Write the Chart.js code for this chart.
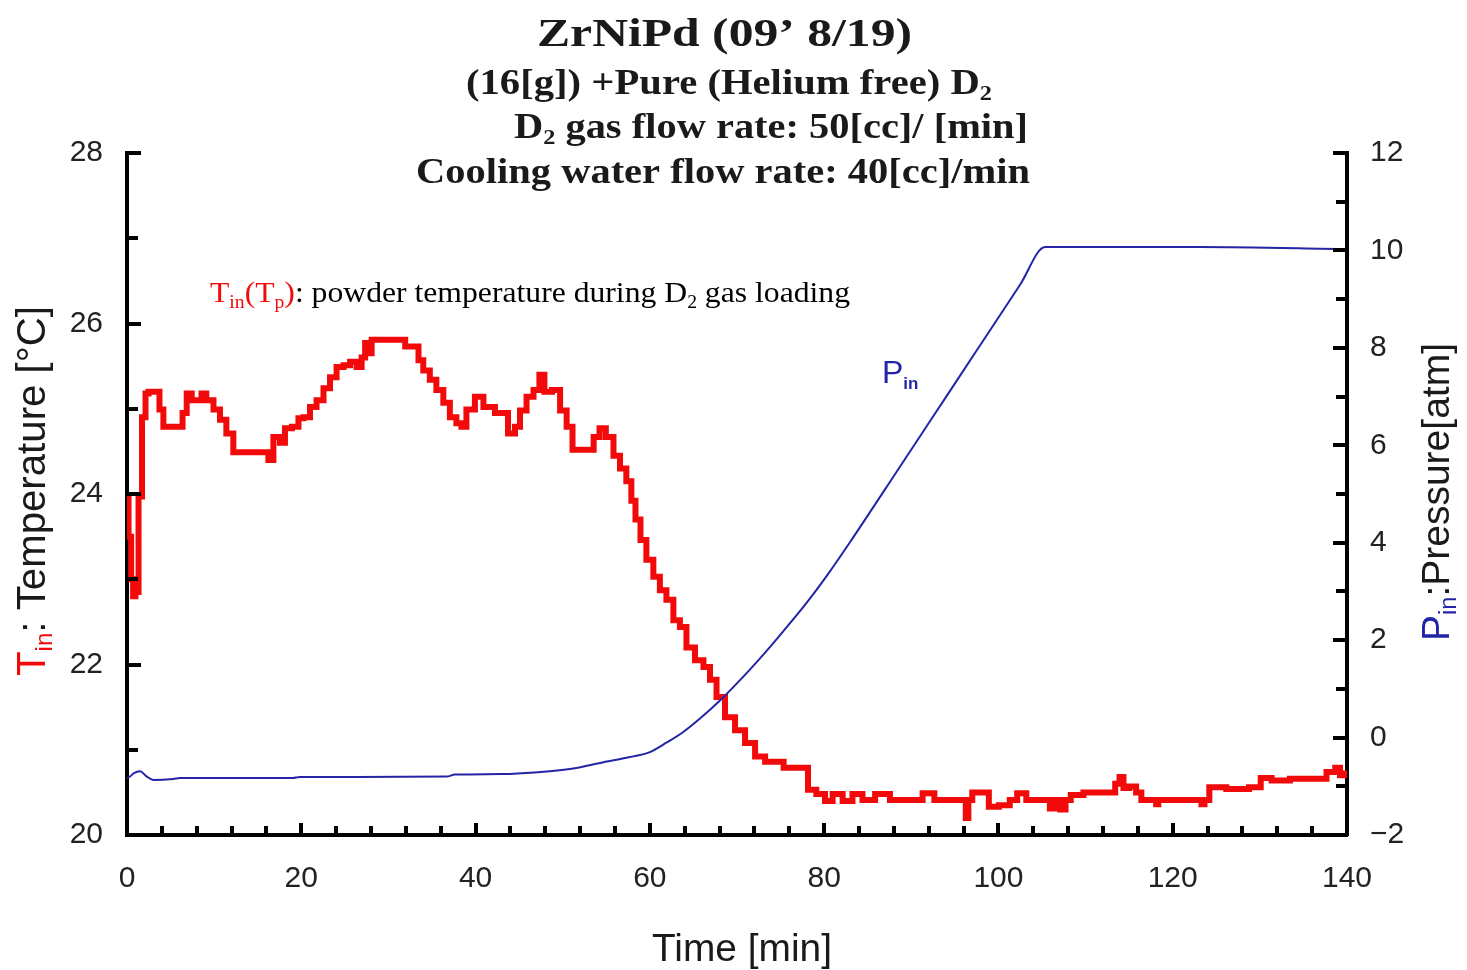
<!DOCTYPE html>
<html lang="en">
<head>
  <meta charset="UTF-8">
  <title>ZrNiPd D2 gas loading</title>
  <script src="https://cdn.jsdelivr.net/npm/chart.js"></script>
  <style>
    body {
      margin: 0;
      background: #fff;
      overflow: hidden;
    }
    canvas {
      display: block;
    }
  </style>
</head>
<body>

  <canvas id="chart" width="1467" height="970"></canvas>

  <script>
    // axis ticks
    const timeTicks = [0, 20, 40, 60, 80, 100, 120, 140];
    const tempTicks = [20, 22, 24, 26, 28];
    const presTicks = [-2, 0, 2, 4, 6, 8, 10, 12];

    // powder temperature T_in [°C] vs time [min]
    const tempTime = [
      0, 0.35, 0.6, 0.8, 1.15, 1.5, 1.95, 2.3, 2.65, 3.45,
      4.0, 4.35, 6.3, 6.45, 7.25, 7.6, 8.4, 8.7, 9.5, 10.35,
      11.0, 11.8, 12.6, 16.05, 16.4, 17.2, 17.9, 18.35, 19.5, 19.85,
      20.65, 21.35, 22.15, 22.95, 23.65, 24.45, 25.25, 25.95, 26.75, 27.1,
      27.55, 27.9, 28.25, 31.7, 32.15, 33.3, 33.6, 34.4, 35.1, 35.9,
      36.7, 37.4, 38.2, 38.55, 39.35, 40.5, 41.3, 43.15, 44.3, 44.75,
      45.45, 46.25, 47.05, 47.6, 48.2, 49.35, 50.05, 50.85, 51.4, 53.15,
      53.95, 54.5, 55.4, 56.25, 56.9, 57.7, 58.05, 58.65, 59.2, 60.0,
      60.8, 61.5, 62.3, 63.1, 63.8, 64.6, 65.75, 66.55, 67.25, 68.05,
      69.2, 70.35, 71.5, 72.65, 73.8, 74.95, 75.75, 77.6, 78.7, 79.5,
      80.7, 81.25, 83.0, 83.5, 85.3, 86.4, 88.7, 91.0, 91.6, 92.5,
      92.8, 96.1, 96.4, 96.7, 97.3, 98.8, 99.0, 101.1, 101.5, 102.8,
      103.6, 105.7, 106.1, 106.8, 107.4, 108.0, 108.6, 110.9, 113.1, 113.7,
      114.1, 114.6, 115.4, 116.2, 116.6, 118.0, 118.2, 118.5, 123.1, 123.5,
      123.8, 124.6, 127.7, 129.8, 130.4, 132.3, 134.6, 136.9, 138.4, 138.9,
      139.5, 140
    ];
    const tempValues = [
      23.95, 23.5, 23.0, 22.8, 22.85, 23.97, 24.9, 25.18, 25.2, 25.2,
      24.99, 24.79, 24.79, 24.95, 25.18, 25.1, 25.1, 25.18, 25.1, 24.99,
      24.87, 24.71, 24.49, 24.49, 24.4, 24.67, 24.6, 24.77, 24.79, 24.89,
      24.9, 25.02, 25.1, 25.24, 25.37, 25.49, 25.51, 25.55, 25.49, 25.6,
      25.77, 25.65, 25.81, 25.81, 25.73, 25.73, 25.57, 25.45, 25.34, 25.22,
      25.07, 24.9, 24.83, 24.79, 24.99, 25.14, 25.02, 24.95, 24.71, 24.79,
      24.98, 25.14, 25.22, 25.4, 25.2, 25.22, 24.98, 24.79, 24.52, 24.52,
      24.67, 24.77, 24.67, 24.45, 24.3, 24.15, 23.92, 23.7, 23.46, 23.23,
      23.03, 22.87, 22.76, 22.52, 22.44, 22.2, 22.05, 21.97, 21.82, 21.62,
      21.38, 21.23, 21.08, 20.92, 20.86, 20.86, 20.79, 20.79, 20.53, 20.48,
      20.4, 20.48, 20.4, 20.48, 20.41, 20.48, 20.41, 20.41, 20.49, 20.49,
      20.41, 20.41, 20.2, 20.41, 20.5, 20.5, 20.33, 20.35, 20.41, 20.49,
      20.41, 20.41, 20.31, 20.41, 20.3, 20.41, 20.47, 20.5, 20.5, 20.6,
      20.68, 20.55, 20.57, 20.5, 20.41, 20.41, 20.36, 20.41, 20.41, 20.36,
      20.41, 20.56, 20.54, 20.56, 20.67, 20.64, 20.66, 20.66, 20.74, 20.79,
      20.7, 20.72
    ];

    // inlet pressure P_in [atm] vs time [min]
    const presTime = [
      0, 0.35, 0.8, 1.5, 2.2, 3.0, 5.3, 6.1, 19.0, 19.85,
      36.7, 37.6, 42.8, 48.5, 51.4, 54.3, 57.7, 60.0, 61.95, 63.8,
      65.75, 68.05, 69.55, 71.5, 73.45, 75.3, 78.05, 80.3, 83.0, 88.7,
      92.5, 95.6, 99.4, 102.5, 105.35, 123.1, 140
    ];
    const presValues = [
      -0.83, -0.8, -0.73, -0.69, -0.79, -0.87, -0.85, -0.83, -0.83, -0.81,
      -0.8, -0.76, -0.75, -0.69, -0.63, -0.52, -0.4, -0.3, -0.1, 0.11,
      0.39, 0.76, 1.03, 1.4, 1.79, 2.18, 2.78, 3.32, 4.02, 5.56,
      6.59, 7.43, 8.46, 9.3, 10.07, 10.07, 10.03
    ];

    const RED = '#f20a0a';
    const BLUE = '#2424a6';
    const INK = '#1a1a1a';

    const sans = (s, w) => `${w || ''} ${s}px "Liberation Sans", Arial, sans-serif`;
    const serif = (s, w) => `${w || ''} ${s}px "Liberation Serif", "Times New Roman", serif`;

    // parts: [text, font, color, baseline shift]
    function drawRich(ctx, parts, x, y, opt) {
      opt = opt || {};
      ctx.save();
      ctx.translate(x, y);
      if (opt.rotate) ctx.rotate(opt.rotate);
      let natural = 0;
      parts.forEach(p => { ctx.font = p[1]; natural += ctx.measureText(p[0]).width; });
      if (opt.width) ctx.scale(opt.width / natural, 1);
      ctx.textAlign = 'left';
      ctx.textBaseline = 'alphabetic';
      let cx = 0;
      parts.forEach(p => {
        ctx.font = p[1];
        ctx.fillStyle = p[2] || INK;
        ctx.fillText(p[0], cx, p[3] || 0);
        cx += ctx.measureText(p[0]).width;
      });
      ctx.restore();
    }

    // inward tick marks on all three axes
    const tickMarks = {
      id: 'tickMarks',
      afterDraw(chart) {
        const { ctx, chartArea: a, scales } = chart;
        ctx.save();
        ctx.strokeStyle = '#000';
        ctx.lineWidth = 4;
        ctx.lineCap = 'butt';
        ctx.beginPath();
        for (let v = 20; v <= 28; v += 1) {
          const y = Math.round(scales.y.getPixelForValue(v));
          ctx.moveTo(a.left, y);
          ctx.lineTo(a.left + (v % 2 === 0 ? 14 : 11), y);
        }
        for (let v = -2; v <= 12; v += 1) {
          const y = Math.round(scales.y2.getPixelForValue(v));
          ctx.moveTo(a.right, y);
          ctx.lineTo(a.right - (v % 2 === 0 ? 14 : 11), y);
        }
        for (let v = 4; v < 140; v += 4) {
          const x = Math.round(scales.x.getPixelForValue(v));
          ctx.moveTo(x, a.bottom);
          ctx.lineTo(x, a.bottom - (v % 20 === 0 ? 12 : 9));
        }
        ctx.stroke();
        ctx.restore();
      }
    };

    // titles, axis titles and in-plot notes
    const chartText = {
      id: 'chartText',
      afterDraw(chart) {
        const ctx = chart.ctx;

        drawRich(ctx, [['ZrNiPd (09\u2019 8/19)', serif(41, 'bold')]], 537, 46, { width: 375 });
        drawRich(ctx, [
          ['(16[g]) +Pure (Helium free) D', serif(35, 'bold')],
          ['2', serif(21, 'bold'), INK, 6]
        ], 466, 94, { width: 526 });
        drawRich(ctx, [
          ['D', serif(35, 'bold')],
          ['2', serif(21, 'bold'), INK, 6],
          [' gas flow rate: 50[cc]/ [min]', serif(35, 'bold')]
        ], 514, 138, { width: 514 });
        drawRich(ctx, [['Cooling water flow rate: 40[cc]/min', serif(35, 'bold')]], 416, 183, { width: 614 });

        drawRich(ctx, [
          ['T', serif(29), RED],
          ['in', serif(18), RED, 6],
          ['(T', serif(29), RED],
          ['p', serif(18), RED, 6],
          [')', serif(29), RED],
          [': powder temperature during D', serif(29), '#000'],
          ['2', serif(18), '#000', 6],
          [' gas loading', serif(29), '#000']
        ], 210, 302, { width: 640 });

        drawRich(ctx, [
          ['P', sans(32), BLUE],
          ['in', sans(17, 'bold'), BLUE, 6]
        ], 882, 383);

        drawRich(ctx, [['Time [min]', sans(39), INK]], 652, 961, { width: 180 });

        drawRich(ctx, [
          ['T', sans(40), RED],
          ['in', sans(24), RED, 7],
          [': ', sans(40), INK],
          ['Temperature [\u00b0C]', sans(40), INK]
        ], 45, 676, { rotate: -Math.PI / 2, width: 370 });

        drawRich(ctx, [
          ['P', sans(38), BLUE],
          ['in', sans(23), BLUE, 7],
          [':Pressure[atm]', sans(38), INK]
        ], 1449, 641, { rotate: -Math.PI / 2, width: 298 });
      }
    };

    const toPoints = (xs, ys) => xs.map((x, i) => ({ x: x, y: ys[i] }));
    const fixedTicks = list => scale => { scale.ticks = list.map(v => ({ value: v })); };
    const tickFont = { family: '"Liberation Sans", Arial, sans-serif', size: 30 };
    const axisBorder = { display: true, color: '#000', width: 4 };

    new Chart(document.getElementById('chart').getContext('2d'), {
      type: 'line',
      data: {
        datasets: [
          {
            label: 'P_in',
            data: toPoints(presTime, presValues),
            yAxisID: 'y2',
            borderColor: BLUE,
            borderWidth: 2,
            pointRadius: 0,
            cubicInterpolationMode: 'monotone',
            order: 0
          },
          {
            label: 'T_in',
            data: toPoints(tempTime, tempValues),
            yAxisID: 'y',
            borderColor: RED,
            borderWidth: 6,
            borderJoinStyle: 'miter',
            stepped: 'middle',
            pointRadius: 0,
            order: 1
          }
        ]
      },
      options: {
        responsive: false,
        animation: false,
        layout: { padding: { top: 153, left: 0, right: 0, bottom: 0 } },
        plugins: {
          legend: { display: false },
          tooltip: { enabled: false },
          title: { display: false }
        },
        scales: {
          x: {
            type: 'linear',
            position: 'bottom',
            min: 0,
            max: 140,
            grid: { display: false, drawTicks: false },
            border: axisBorder,
            afterBuildTicks: fixedTicks(timeTicks),
            ticks: { padding: 26, color: '#222', font: tickFont, maxRotation: 0 },
            afterFit: s => { s.height = 135; }
          },
          y: {
            type: 'linear',
            position: 'left',
            min: 20,
            max: 28,
            grid: { display: false, drawTicks: false },
            border: axisBorder,
            afterBuildTicks: fixedTicks(tempTicks),
            ticks: { padding: 24, color: '#222', font: tickFont },
            afterFit: s => { s.width = 127; }
          },
          y2: {
            type: 'linear',
            position: 'right',
            min: -2,
            max: 12,
            grid: { display: false, drawTicks: false },
            border: axisBorder,
            afterBuildTicks: fixedTicks(presTicks),
            ticks: {
              padding: 23,
              color: '#222',
              font: tickFont,
              callback: v => (v < 0 ? '\u2212' + Math.abs(v) : String(v))
            },
            afterFit: s => { s.width = 120; }
          }
        }
      },
      plugins: [tickMarks, chartText]
    });
  </script>

</body>
</html>
